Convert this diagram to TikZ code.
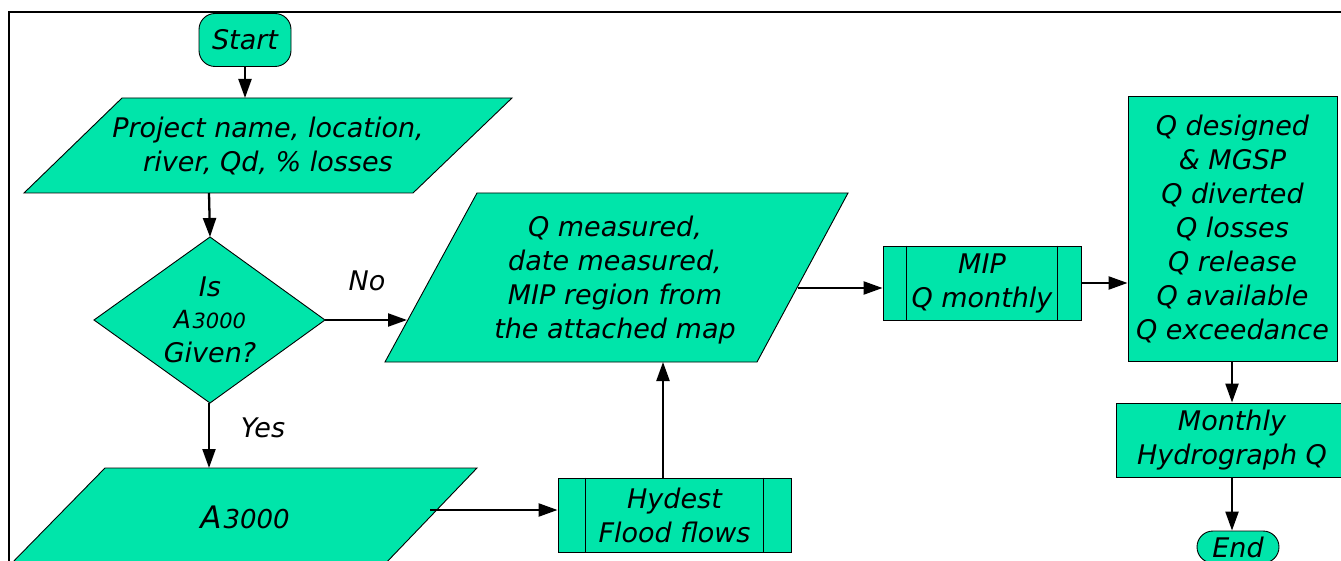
\documentclass[tikz,border=0pt]{standalone}
\usepackage{fontspec}
\setmainfont{DejaVu Sans}
\usetikzlibrary{arrows.meta,calc}
\definecolor{mint}{RGB}{0,229,170}

\begin{document}
\begin{tikzpicture}[x=1pt,y=-1pt,
  body/.style={fill=mint,draw=black,line width=0.9pt},
  txt/.style={font=\fontsize{27}{34}\selectfont\itshape,align=center,inner sep=0pt},
  terminal/.style={body,txt,rounded corners=16pt},
  boxnode/.style={body,txt,rectangle},
  flow/.style={line width=2.3pt,-{Triangle[length=19pt,width=13pt]}},
  frame/.style={line width=2pt}]
\useasboundingbox (0,0) rectangle (1341,561);
\clip (0,0) rectangle (1341,561);

% outer frame
\draw[frame] (9,570) -- (9,12) -- (1350,12);

% terminals
\node[terminal,minimum width=92pt,minimum height=53pt] (start) at (245,40) {Start};
\node[terminal,minimum width=82pt,minimum height=32pt] (stop) at (1238,547) {End};

% input parallelograms
\filldraw[body] (122,98) -- (512,98) -- (413,193) -- (24,193) -- cycle;
\node[txt] (inp) at (268,146) {Project name, location,\\river, Qd, \% losses};
\coordinate (inpN) at (245,98);
\coordinate (inpS) at (209,193);

\filldraw[body] (477,193) -- (848,193) -- (757,362) -- (385,362) -- cycle;
\node[txt] (meas) at (615,280) {Q measured,\\date measured,\\MIP region from\\the attached map};
\coordinate (measW) at (407,320);
\coordinate (measS) at (663,362);
\coordinate (measE) at (798,288);

\filldraw[body] (105,468) -- (477,468) -- (383,566) -- (9,566) -- cycle;
\node[txt] (area) at (245,517) {{\fontsize{31}{34}\selectfont A}\kern2pt{\fontsize{26}{34}\selectfont 3000}};
\coordinate (areaN) at (209,468);
\coordinate (areaE) at (430,510);

% decision
\filldraw[body] (210,237) -- (325,320) -- (210,403) -- (94,320) -- cycle;
\node[txt] (dec) at (210,320) {Is\\[-2pt]{\fontsize{25}{30}\selectfont A}\kern1.5pt{\fontsize{21}{30}\selectfont 3000}\\Given?};
\coordinate (decN) at (210,237);
\coordinate (decE) at (325,320);
\coordinate (decS) at (209,403);

% processes
\node[boxnode,minimum width=233pt,minimum height=74pt] (hyd) at (674.5,515) {Hydest\\Flood flows};
\draw[line width=0.9pt] ([xshift=28pt]hyd.north west) -- ([xshift=28pt]hyd.south west)
  ([xshift=-28pt]hyd.north east) -- ([xshift=-28pt]hyd.south east);

\node[boxnode,minimum width=198pt,minimum height=74pt] (mip) at (982,283) {MIP\\Q monthly};
\draw[line width=0.9pt] ([xshift=24pt]mip.north west) -- ([xshift=24pt]mip.south west)
  ([xshift=-24pt]mip.north east) -- ([xshift=-24pt]mip.south east);

\node[boxnode,minimum width=209pt,minimum height=265pt] (res) at (1232.5,228.5)
  {Q designed\\\& MGSP\\Q diverted\\Q losses\\Q release\\Q available\\Q exceedance};

\node[boxnode,minimum width=232pt,minimum height=74pt] (hyg) at (1232,440) {Monthly\\Hydrograph Q};

% edge labels
\node[txt] (lno) at (367,281) {No};
\node[txt] (lyes) at (263,428) {Yes};

% connectors
\draw[flow] (start.south) -- (inpN);
\draw[flow] (inpS) -- (decN);
\draw[flow] (decE) -- (measW);
\draw[flow] (decS) -- (areaN);
\draw[flow] (areaE) -- (areaE -| hyd.west);
\draw[flow] (measS |- hyd.north) -- (measS);
\draw[flow] (measE) -- (measE -| mip.west);
\draw[flow] (mip.east) -- (mip.east -| res.west);
\draw[flow] (res.south -| hyg.north) -- (hyg.north);
\draw[flow] (hyg.south) -- (hyg.south |- stop.north);
\end{tikzpicture}
\end{document}
